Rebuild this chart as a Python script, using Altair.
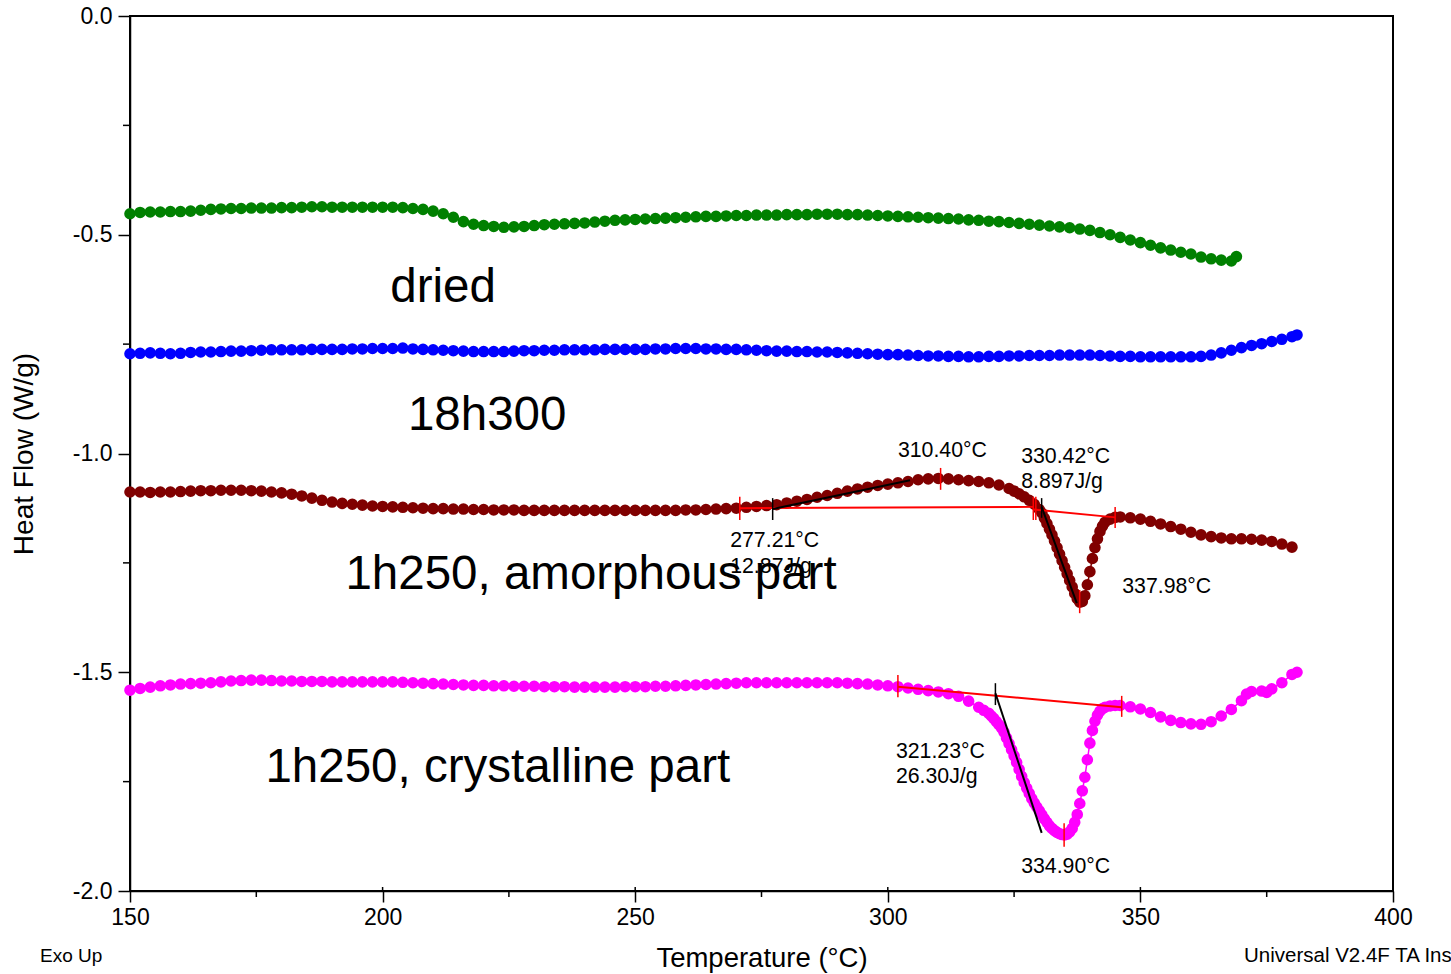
import altair as alt
import pandas as pd

# ---- DSC heat-flow traces (Temperature in °C, Heat Flow in W/g) ----
dried_t = list(range(150, 370, 2)) + [369]
dried_hf = [
    -0.452, -0.449, -0.448, -0.448, -0.447, -0.447, -0.446, -0.444, -0.442, -0.441,
    -0.440, -0.440, -0.439, -0.439, -0.439, -0.438, -0.438, -0.437, -0.436, -0.436,
    -0.437, -0.437, -0.437, -0.437, -0.437, -0.437, -0.437, -0.438, -0.440, -0.442,
    -0.446, -0.452, -0.460, -0.470, -0.476, -0.479, -0.481, -0.483, -0.482, -0.481,
    -0.479, -0.477, -0.476, -0.475, -0.474, -0.473, -0.471, -0.469, -0.467, -0.466,
    -0.465, -0.464, -0.463, -0.462, -0.461, -0.460, -0.459, -0.458, -0.458, -0.457,
    -0.456, -0.456, -0.455, -0.455, -0.455, -0.454, -0.454, -0.454, -0.453, -0.453,
    -0.453, -0.454, -0.454, -0.455, -0.456, -0.457, -0.458, -0.459, -0.460, -0.461,
    -0.462, -0.463, -0.464, -0.466, -0.467, -0.469, -0.470, -0.472, -0.474, -0.476,
    -0.478, -0.480, -0.482, -0.484, -0.487, -0.490, -0.495, -0.500, -0.506, -0.512,
    -0.518, -0.524, -0.530, -0.535, -0.540, -0.544, -0.551, -0.555, -0.558, -0.560,
    -0.550,
]

h300_t = list(range(150, 382, 2)) + [381]
h300_hf = [
    -0.772, -0.771, -0.770, -0.771, -0.772, -0.771, -0.769, -0.768, -0.768, -0.767,
    -0.766, -0.766, -0.765, -0.764, -0.763, -0.763, -0.763, -0.763, -0.762, -0.762,
    -0.762, -0.762, -0.761, -0.761, -0.760, -0.760, -0.760, -0.759, -0.761, -0.762,
    -0.763, -0.764, -0.765, -0.766, -0.767, -0.767, -0.767, -0.767, -0.766, -0.765,
    -0.765, -0.764, -0.764, -0.763, -0.763, -0.763, -0.763, -0.762, -0.762, -0.762,
    -0.762, -0.762, -0.761, -0.761, -0.760, -0.760, -0.760, -0.761, -0.761, -0.762,
    -0.762, -0.763, -0.764, -0.765, -0.766, -0.766, -0.767, -0.767, -0.768, -0.768,
    -0.769, -0.770, -0.771, -0.772, -0.773, -0.774, -0.774, -0.775, -0.776, -0.777,
    -0.777, -0.778, -0.778, -0.779, -0.779, -0.778, -0.778, -0.777, -0.777, -0.776,
    -0.776, -0.776, -0.775, -0.775, -0.775, -0.775, -0.776, -0.777, -0.778, -0.778,
    -0.779, -0.779, -0.779, -0.779, -0.779, -0.779, -0.778, -0.775, -0.770, -0.764,
    -0.758, -0.753, -0.749, -0.744, -0.739, -0.733, -0.729,
]

amorph_t = list(range(150, 325, 2)) + [
    325, 326, 327, 328, 329, 330, 330.5, 331, 331.5, 332, 332.5, 333, 333.5, 334,
    334.5, 335, 335.5, 336, 336.5, 337, 337.5, 338, 338.5, 339, 339.5, 340, 340.5,
    341, 341.5, 342, 342.5, 343, 344, 345, 346,
] + list(range(348, 382, 2))
amorph_hf = [
    -1.088, -1.088, -1.089, -1.088, -1.088, -1.087, -1.086, -1.085, -1.085, -1.084,
    -1.084, -1.084, -1.085, -1.086, -1.088, -1.090, -1.093, -1.097, -1.102, -1.107,
    -1.111, -1.114, -1.116, -1.118, -1.120, -1.121, -1.122, -1.123, -1.124, -1.125,
    -1.126, -1.126, -1.127, -1.127, -1.128, -1.128, -1.129, -1.129, -1.129, -1.130,
    -1.130, -1.130, -1.130, -1.130, -1.130, -1.130, -1.130, -1.130, -1.130, -1.130,
    -1.130, -1.130, -1.130, -1.130, -1.130, -1.129, -1.129, -1.128, -1.127, -1.126,
    -1.125, -1.123, -1.121, -1.119, -1.117, -1.113, -1.109, -1.105, -1.100, -1.096,
    -1.091, -1.086, -1.081, -1.077, -1.073, -1.070, -1.067, -1.064, -1.060, -1.058,
    -1.057, -1.058, -1.060, -1.062, -1.064, -1.067, -1.072, -1.080,
    -1.086, -1.092, -1.099, -1.107, -1.116, -1.128, -1.136, -1.148, -1.160, -1.173,
    -1.186, -1.200, -1.215, -1.230, -1.245, -1.260, -1.275, -1.290, -1.305, -1.320,
    -1.332, -1.340, -1.338, -1.325, -1.300, -1.270, -1.240, -1.215, -1.195, -1.178,
    -1.166, -1.157, -1.150, -1.146, -1.145,
    -1.147, -1.150, -1.155, -1.161, -1.167, -1.173, -1.180, -1.186, -1.190, -1.193,
    -1.195, -1.195, -1.196, -1.198, -1.201, -1.207, -1.214,
]

cryst_t = list(range(150, 320, 2)) + [
    319, 320, 320.5, 321, 321.5, 322, 322.5, 323, 323.5, 324, 324.5, 325, 325.5,
    326, 326.5, 327, 327.5, 328, 328.5, 329, 329.5, 330, 330.5, 331, 331.5, 332,
    332.5, 333, 333.5, 334, 334.5, 335, 335.5, 336, 336.5, 337, 337.5, 338, 338.5,
    339, 339.5, 340, 340.5, 341, 341.5, 342, 342.5, 343, 344, 345, 346,
] + list(range(348, 372, 2)) + [371, 372, 374, 375, 376, 378, 380, 381]
cryst_hf = [
    -1.541, -1.537, -1.534, -1.531, -1.529, -1.527, -1.526, -1.525, -1.524, -1.522,
    -1.520, -1.519, -1.518, -1.518, -1.519, -1.520, -1.520, -1.521, -1.521, -1.521,
    -1.522, -1.522, -1.522, -1.522, -1.522, -1.522, -1.522, -1.523, -1.524, -1.525,
    -1.526, -1.527, -1.528, -1.529, -1.530, -1.530, -1.531, -1.531, -1.532, -1.532,
    -1.532, -1.533, -1.533, -1.533, -1.534, -1.534, -1.534, -1.534, -1.534, -1.533,
    -1.533, -1.533, -1.532, -1.532, -1.531, -1.530, -1.529, -1.528, -1.527, -1.526,
    -1.525, -1.524, -1.524, -1.524, -1.524, -1.524, -1.524, -1.524, -1.524, -1.524,
    -1.524, -1.525, -1.526, -1.527, -1.529, -1.531, -1.533, -1.536, -1.539, -1.542,
    -1.545, -1.549, -1.555, -1.566, -1.580,
    -1.587, -1.594, -1.600, -1.606, -1.613, -1.620, -1.627, -1.637, -1.650, -1.663,
    -1.677, -1.691, -1.706, -1.722, -1.738, -1.752, -1.765, -1.777, -1.789, -1.799,
    -1.808, -1.817, -1.826, -1.835, -1.843, -1.851, -1.857, -1.862, -1.866, -1.869,
    -1.871, -1.872, -1.870, -1.865, -1.857, -1.843, -1.825, -1.800, -1.771, -1.740,
    -1.700, -1.662, -1.633, -1.612, -1.598, -1.589, -1.583, -1.580, -1.577, -1.576,
    -1.576,
    -1.579, -1.584, -1.592, -1.602, -1.610, -1.615, -1.618, -1.619, -1.613, -1.600,
    -1.585, -1.565,
    -1.550, -1.544, -1.543, -1.546, -1.538, -1.524, -1.505, -1.500,
]

series_names = ["dried", "18h300", "1h250, amorphous part", "1h250, crystalline part"]
series_colors = ["#008000", "#0000ff", "#800000", "#ff00ff"]

# ---- analysis annotations ----
# red integration baselines (start T, start HF, end T, end HF)
base_t1 = [270.7, 328.9, 302.0]
base_h1 = [-1.125, -1.128, -1.533]
base_t2 = [328.8, 345.0, 346.3]
base_h2 = [-1.122, -1.146, -1.580]

# red limit / peak markers (T, HF from, HF to)
red_tick_t = [270.7, 310.45, 328.8, 329.3, 345.0, 337.98, 302.0, 346.3, 334.9]
red_tick_h1 = [-1.099, -1.033, -1.099, -1.099, -1.122, -1.312, -1.506, -1.554, -1.845]
red_tick_h2 = [-1.152, -1.083, -1.152, -1.152, -1.170, -1.365, -1.557, -1.602, -1.899]

# black onset tangents and onset markers
tan_t1 = [277.21, 330.45, 321.3]
tan_h1 = [-1.127, -1.122, -1.548]
tan_t2 = [304.4, 337.4, 330.46]
tan_h2 = [-1.061, -1.342, -1.867]
onset_t = [277.21, 330.45, 321.3]
onset_h1 = [-1.102, -1.102, -1.525]
onset_h2 = [-1.152, -1.147, -1.575]

# result labels
result_text = ["310.40°C", "330.42°C", "8.897J/g", "277.21°C", "12.87J/g",
               "337.98°C", "321.23°C", "26.30J/g", "334.90°C"]
result_t = [302.0, 326.4, 326.4, 268.8, 268.8, 346.4, 301.6, 301.6, 326.4]
result_h = [-1.008, -1.022, -1.079, -1.214, -1.273, -1.319, -1.696, -1.753, -1.959]

# curve names
name_t = [211.96, 220.7, 241.25, 222.8]
name_h = [-0.654, -0.946, -1.310, -1.751]

x_ticks = [150, 200, 250, 300, 350, 400]
x_minor = [175, 225, 275, 325, 375]
y_ticks = [-2.0, -1.5, -1.0, -0.5, 0.0]
y_minor = [-1.75, -1.25, -0.75, -0.25]

FONT = "Liberation Sans"
W, H = 1263, 875

rows = []
for name, ts, hs in zip(series_names, [dried_t, h300_t, amorph_t, cryst_t],
                        [dried_hf, h300_hf, amorph_hf, cryst_hf]):
    for t, h in zip(ts, hs):
        rows.append({"series": name, "t": t, "hf": h})
curves = pd.DataFrame(rows)

x_enc = alt.X(
    "t:Q",
    scale=alt.Scale(domain=[150, 400], nice=False, zero=False),
    axis=alt.Axis(
        values=x_ticks, title="Temperature (°C)", grid=False,
        labelFontSize=23, labelPadding=4, tickSize=11, tickWidth=1.5,
        domainWidth=1.5, domainColor="black", tickColor="black",
        labelColor="black", titleColor="black", titleFontSize=27.5,
        titleFontWeight="normal", titleBaseline="alphabetic", titleY=75,
        labelFlush=False,
    ),
)
y_enc = alt.Y(
    "hf:Q",
    scale=alt.Scale(domain=[-2.0, 0.0], nice=False, zero=False),
    axis=alt.Axis(
        values=y_ticks, title="Heat Flow (W/g)", grid=False,
        labelFontSize=23, labelPadding=6, tickSize=12, tickWidth=1.5,
        domainWidth=1.5, domainColor="black", tickColor="black",
        labelColor="black", titleColor="black", titleFontSize=28,
        titleFontWeight="normal", titleX=-92, titleY=H / 2,
        labelFlush=False,
        labelExpr="(datum.value < 0 ? '-' : '') + format(abs(datum.value), '.1f')",
    ),
)
color_enc = alt.Color(
    "series:N",
    scale=alt.Scale(domain=series_names, range=series_colors),
    legend=None,
)

lines = alt.Chart(curves).mark_line(strokeWidth=1.5).encode(
    x=x_enc, y=y_enc, color=color_enc, detail="series:N", order="t:Q"
)
dots = alt.Chart(curves).mark_circle(size=135, opacity=1).encode(
    x=x_enc, y=y_enc, color=color_enc
)

baselines = alt.Chart(pd.DataFrame(
    {"t": base_t1, "hf": base_h1, "t2": base_t2, "hf2": base_h2}
)).mark_rule(color="#ff0000", strokeWidth=2).encode(
    x=x_enc, y=y_enc, x2="t2:Q", y2="hf2:Q"
)
red_ticks = alt.Chart(pd.DataFrame(
    {"t": red_tick_t, "hf": red_tick_h1, "hf2": red_tick_h2}
)).mark_rule(color="#ff0000", strokeWidth=1.5).encode(
    x=x_enc, y=y_enc, y2="hf2:Q"
)
tangents = alt.Chart(pd.DataFrame(
    {"t": tan_t1, "hf": tan_h1, "t2": tan_t2, "hf2": tan_h2}
)).mark_rule(color="black", strokeWidth=2).encode(
    x=x_enc, y=y_enc, x2="t2:Q", y2="hf2:Q"
)
onsets = alt.Chart(pd.DataFrame(
    {"t": onset_t, "hf": onset_h1, "hf2": onset_h2}
)).mark_rule(color="black", strokeWidth=1.5).encode(
    x=x_enc, y=y_enc, y2="hf2:Q"
)

results = alt.Chart(pd.DataFrame(
    {"t": result_t, "hf": result_h, "label": result_text}
)).mark_text(
    align="left", baseline="alphabetic", fontSize=21.3, font=FONT, color="black"
).encode(x=x_enc, y=y_enc, text="label:N")

names = alt.Chart(pd.DataFrame(
    {"t": name_t, "hf": name_h, "label": series_names}
)).mark_text(
    align="center", baseline="alphabetic", fontSize=47.5, font=FONT, color="black"
).encode(x=x_enc, y=y_enc, text="label:N")

# minor ticks between the labelled ones, and the inner stubs of the major ticks
x_minor_ticks = alt.Chart(pd.DataFrame({"t": x_minor})).mark_rule(
    color="black", strokeWidth=1.5
).encode(x=x_enc, y=alt.value(H), y2=alt.value(H + 6))
x_major_stubs = alt.Chart(pd.DataFrame({"t": x_ticks[1:]})).mark_rule(
    color="black", strokeWidth=1.5
).encode(x=x_enc, y=alt.value(H - 4), y2=alt.value(H))
y_minor_ticks = alt.Chart(pd.DataFrame({"hf": y_minor})).mark_rule(
    color="black", strokeWidth=1.5
).encode(y=y_enc, x=alt.value(-7), x2=alt.value(0))

footer = alt.Chart(pd.DataFrame({"label": ["Exo Up"]})).mark_text(
    align="left", baseline="alphabetic", fontSize=19, font=FONT, color="black"
).encode(x=alt.value(-90), y=alt.value(946), text="label:N")
footer_right = alt.Chart(pd.DataFrame({"label": ["Universal V2.4F TA Instruments"]})).mark_text(
    align="left", baseline="alphabetic", fontSize=20.5, font=FONT, color="black"
).encode(x=alt.value(1114), y=alt.value(946), text="label:N")

chart = alt.layer(
    lines, dots, baselines, red_ticks, tangents, onsets, results, names,
    x_minor_ticks, x_major_stubs, y_minor_ticks, footer, footer_right,
).properties(
    width=W, height=H,
    autosize=alt.AutoSizeParams(type="none"),
    padding={"left": 130, "top": 16, "right": 58, "bottom": 83},
    background="white",
).configure(
    font=FONT,
    view=alt.ViewConfig(stroke="black", strokeWidth=2),
)

chart.save("out.html", embed_options={"renderer": "svg", "actions": False})
